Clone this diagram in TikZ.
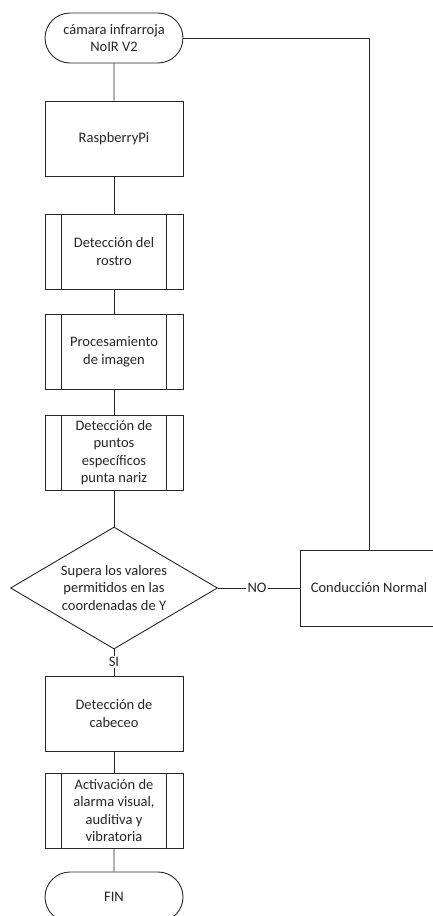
\documentclass[tikz,border=0pt]{standalone}
\usepackage{fontspec}
\setmainfont{Carlito}
\usetikzlibrary{shapes.geometric,shapes.misc}
\definecolor{lc}{HTML}{262626}
\begin{document}
\begin{tikzpicture}[x=1pt,y=-1pt,
  every node/.style={font=\fontsize{14.5}{17.5}\selectfont, text=lc},
  procbox/.style={draw=lc, line width=0.9pt, minimum width=138pt, minimum height=75pt, align=center, inner sep=0pt},
  subbox/.style={procbox, path picture={
     \draw[lc, line width=0.9pt] ([xshift=16.5pt]path picture bounding box.north west) -- ([xshift=16.5pt]path picture bounding box.south west);
     \draw[lc, line width=0.9pt] ([xshift=-16.5pt]path picture bounding box.north east) -- ([xshift=-16.5pt]path picture bounding box.south east);}},
  termbox/.style={rounded rectangle, draw=lc, line width=0.9pt, minimum width=138pt, minimum height=50pt, align=center, inner sep=0pt},
  decbox/.style={diamond, draw=lc, line width=0.9pt, minimum width=207pt, minimum height=122pt, aspect=1.7, align=center, inner sep=0pt},
  lbl/.style={fill=white, inner sep=1pt},
  conn/.style={draw=lc, line width=0.9pt}]
\useasboundingbox (0,0) rectangle (433,916);
\clip (0,0) rectangle (433,916);
\fill[white] (0,0) rectangle (433,916);

\node[termbox] (start) at (114,38) {cámara infrarroja\\NoIR V2};
\node[procbox] (rasp) at (114,138.5) {RaspberryPi};
\node[subbox] (rostro) at (114,251.5) {Detección del\\rostro};
\node[subbox] (proc) at (114,352) {Procesamiento\\de imagen};
\node[subbox] (puntos) at (114,452.5) {Detección de\\puntos\\específicos\\punta nariz};
\node[decbox] (dec) at (114,588) {Supera los valores\\permitidos en las\\coordenadas de Y};
\node[procbox, minimum height=76pt] (cond) at (369,588) {Conducción Normal};
\node[lbl] (no) at (257,588) {NO};
\node[lbl] (si) at (114,662) {SI};
\node[procbox] (cab) at (114,713.5) {Detección de\\cabeceo};
\node[subbox] (act) at (114,810.5) {Activación de\\alarma visual,\\auditiva y\\vibratoria};
\node[termbox] (fin) at (114,897) {FIN};

\draw[conn] (start) -- (rasp);
\draw[conn] (rasp) -- (rostro);
\draw[conn] (rostro) -- (proc);
\draw[conn] (proc) -- (puntos);
\draw[conn] (puntos) -- (dec);
\draw[conn] (dec.east) -- (no.west);
\draw[conn] (no.east) -- (cond.west);
\draw[conn] (start.east) -| (cond.north);
\draw[conn] (dec.south) -- (si.north);
\draw[conn] (si.south) -- (cab.north);
\draw[conn] (cab) -- (act);
\draw[conn] (act) -- (fin);
\end{tikzpicture}
\end{document}
